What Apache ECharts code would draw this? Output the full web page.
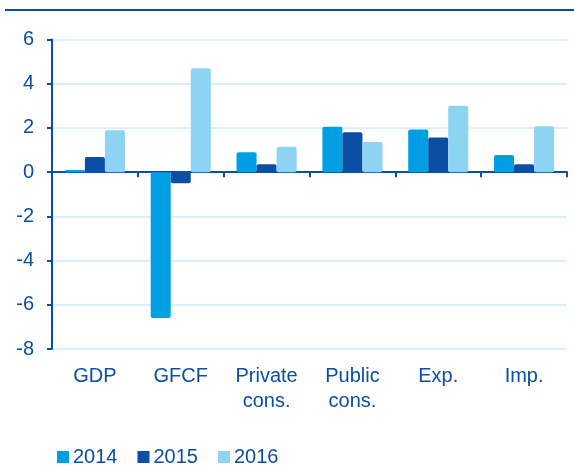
<!DOCTYPE html>
<html>
<head>
<meta charset="utf-8">
<script src="https://cdn.jsdelivr.net/npm/echarts@6/dist/echarts.min.js"></script>
<style>
  html, body { margin: 0; padding: 0; background: #fff; }
  #chart { width: 574px; height: 475px; }
</style>
</head>
<body>
<div id="chart"></div>
<script>
var categories = ['GDP', 'GFCF', 'Private\ncons.', 'Public\ncons.', 'Exp.', 'Imp.'];
var years = ['2014', '2015', '2016'];
var values2014 = [0.1, -6.6, 0.9, 2.05, 1.93, 0.78];
var values2015 = [0.68, -0.5, 0.36, 1.8, 1.57, 0.36];
var values2016 = [1.9, 4.7, 1.15, 1.36, 3.0, 2.08];
var colors = ['#009fe3', '#0a4fa3', '#8dd3f2'];
var textColor = '#0b4ea2';

var chart = echarts.init(document.getElementById('chart'));

function barSeries(name, data, idx) {
  return {
    name: name,
    type: 'bar',
    data: data,
    barGap: '0%',
    barCategoryGap: '30%',
    itemStyle: {
      color: colors[idx],
      borderRadius: 2
    }
  };
}

var option = {
  animation: false,
  textStyle: { fontFamily: 'Liberation Sans, Arial, sans-serif' },
  graphic: [{
    type: 'rect',
    shape: { x: 5, y: 9, width: 569, height: 2 },
    style: { fill: textColor }
  }],
  grid: { left: 52, right: 7, top: 39.5, bottom: 126 },
  legend: {
    data: years,
    left: 52,
    top: 442,
    icon: 'rect',
    itemWidth: 12,
    itemHeight: 12,
    itemGap: 20,
    textStyle: { color: textColor, fontSize: 20, padding: [0, 0, 0, -1] }
  },
  xAxis: [{
    type: 'category',
    data: categories,
    position: 'bottom',
    axisLine: { onZero: true, lineStyle: { color: textColor, width: 2 } },
    axisTick: { show: true, length: 5, lineStyle: { color: textColor, width: 2 } },
    axisLabel: { show: false },
    splitLine: { show: false }
  }, {
    type: 'category',
    data: categories,
    position: 'bottom',
    offset: 0,
    axisLine: { show: false, onZero: false },
    axisTick: { show: false },
    axisLabel: { color: textColor, fontSize: 20, lineHeight: 25, margin: 15 },
    splitLine: { show: false }
  }],
  yAxis: {
    type: 'value',
    min: -8,
    max: 6,
    interval: 2,
    axisLine: { show: true, lineStyle: { color: textColor, width: 2 } },
    axisTick: { show: true, length: 5, lineStyle: { color: textColor, width: 2 } },
    axisLabel: { color: textColor, fontSize: 20, margin: 18 },
    splitLine: { lineStyle: { color: '#cdeaf7', width: 1.5 } }
  },
  series: [
    barSeries(years[0], values2014, 0),
    barSeries(years[1], values2015, 1),
    barSeries(years[2], values2016, 2)
  ]
};
chart.setOption(option);
</script>
</body>
</html>
